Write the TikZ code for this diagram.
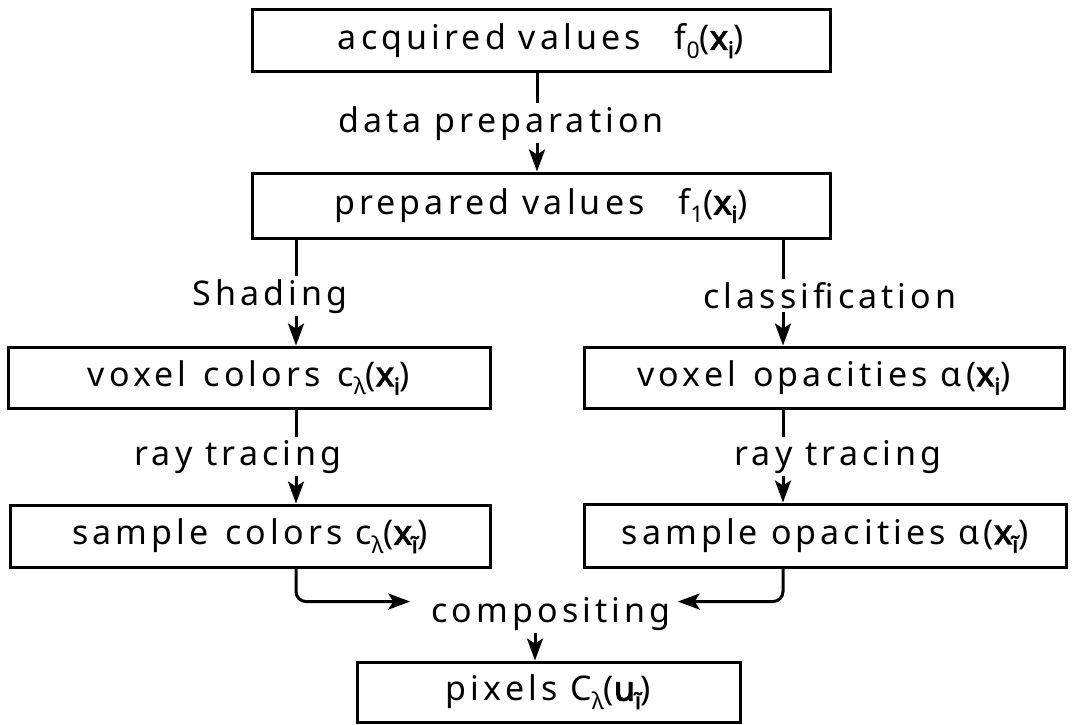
\documentclass[tikz,border=0pt]{standalone}
\usepackage{fontspec}
\setmainfont{Noto Sans}[LetterSpace=12]
\newfontfamily\heavyfam{Noto Sans}[FakeBold=3, LetterSpace=12]
\usetikzlibrary{arrows.meta}
\newcommand\lowsub[1]{\raisebox{-0.25em}{\fontsize{23}{23}\selectfont #1}}
\newcommand\bx[1]{{\heavyfam x}\lowsub{\heavyfam #1}}
\begin{document}
\begin{tikzpicture}[x=1pt,y=-1pt,
  box/.style={draw, line width=3pt, inner sep=0pt, font=\fontsize{34}{40}\selectfont},
  lab/.style={inner sep=3pt, anchor=base, font=\fontsize{34}{40}\selectfont},
  conn/.style={line width=3pt},
  arr/.style={line width=3pt, -{Stealth[length=22pt,width=16pt,inset=5pt]}},
]
\useasboundingbox (0,0) rectangle (1076,725);
% column coordinates
\coordinate (ct) at (537,0);
\coordinate (cl) at (296,0);
\coordinate (cr) at (783,0);
\coordinate (cb) at (535,0);
% boxes
\node[box, minimum width=578pt, minimum height=62pt] (b1) at (541,41)
  {acquired values\quad f\lowsub{0}(\bx{i})};
\node[box, minimum width=578pt, minimum height=65pt] (b2) at (541,205.5)
  {prepared values\quad f\lowsub{1}(\bx{i})};
\node[box, minimum width=482pt, minimum height=61pt] (b3) at (249,377.5)
  {voxel\enspace colors\enspace c\lowsub{λ}(\bx{i})};
\node[box, minimum width=480pt, minimum height=61pt] (b4) at (824,377.5)
  {voxel\enspace opacities α(\bx{i})};
\node[box, minimum width=480pt, minimum height=62pt] (b5) at (250,536)
  {sample\enspace colors c\lowsub{λ}(\bx{ĩ})};
\node[box, minimum width=482pt, minimum height=63pt] (b6) at (825,535.5)
  {sample opacities α(\bx{ĩ})};
\node[box, minimum width=383pt, minimum height=60pt] (b7) at (548.5,692)
  {pixels C\lowsub{λ}({\heavyfam u}\lowsub{\heavyfam ĩ})};
% labels
\node[lab] (dp) at (501,132) {data preparation};
\node[lab] (sh) at (270,305) {Shading};
\node[lab] (cf) at (830,308) {classification};
\node[lab] (rl) at (238,465) {ray tracing};
\node[lab] (rr) at (838,465) {ray tracing};
\node[lab] (cp) at (551,622) {compositing};
% connectors
\draw[conn] (b1.south -| ct) -- (dp.north -| ct);
\draw[arr] (dp.south -| ct) -- (b2.north -| ct);
\draw[conn] (b2.south -| cl) -- (sh.north -| cl);
\draw[arr] (sh.south -| cl) -- (b3.north -| cl);
\draw[conn] (b2.south -| cr) -- (cf.north -| cr);
\draw[arr] (cf.south -| cr) -- (b4.north -| cr);
\draw[conn] (b3.south -| cl) -- (rl.north -| cl);
\draw[arr] (rl.south -| cl) -- (b5.north -| cl);
\draw[conn] (b4.south -| cr) -- (rr.north -| cr);
\draw[arr] (rr.south -| cr) -- (b6.north -| cr);
\draw[arr, rounded corners=10pt, shorten >=18pt] (b5.south -| cl) |- ([yshift=12pt]cp.west);
\draw[arr, rounded corners=10pt, shorten >=4pt] (b6.south -| cr) |- ([yshift=12pt]cp.east);
\draw[arr] (cp.south -| cb) -- (b7.north -| cb);
\end{tikzpicture}
\end{document}
